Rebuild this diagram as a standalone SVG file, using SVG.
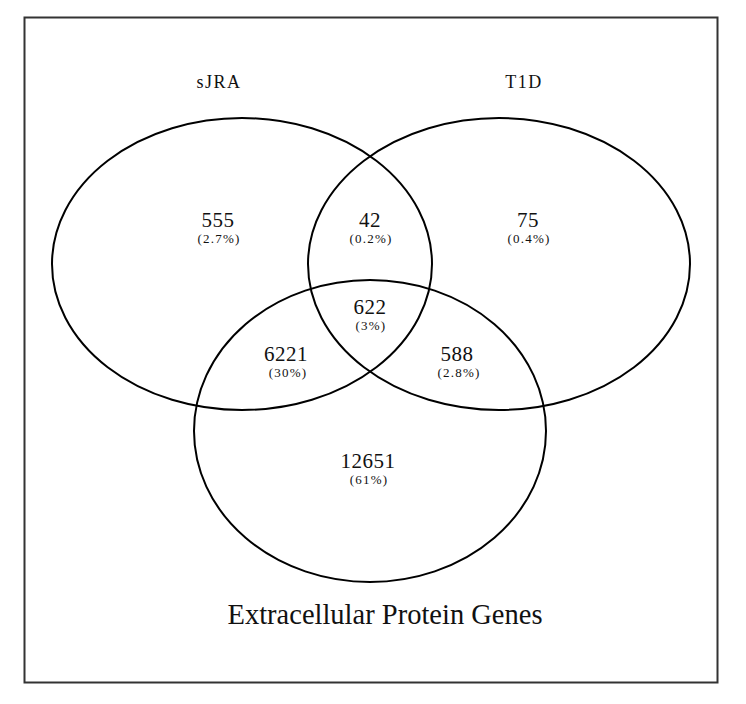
<svg xmlns="http://www.w3.org/2000/svg" width="746" height="704" viewBox="0 0 746 704">
<style>
.set{fill:none;stroke:#000;stroke-width:2}
.lab{font-family:"Liberation Serif","DejaVu Serif",serif;font-size:18px;fill:#111;text-anchor:middle;letter-spacing:1.5px}
.num{font-family:"Liberation Serif","DejaVu Serif",serif;font-size:21px;fill:#111;text-anchor:middle;letter-spacing:0.5px}
.pct{font-family:"Liberation Serif","DejaVu Serif",serif;font-size:13px;fill:#111;text-anchor:middle;letter-spacing:1.2px}
.title{font-family:"Liberation Serif","Times New Roman",serif;font-size:28.5px;fill:#111;text-anchor:middle}
</style>
<rect x="0" y="0" width="746" height="704" fill="#fff"/>
<rect x="24.5" y="17.5" width="693" height="665" fill="none" stroke="#333" stroke-width="2"/>
<g id="sets">
<g id="sJRA"><ellipse class="set" cx="242" cy="264" rx="190" ry="146"/><text class="lab" x="219" y="88">sJRA</text></g>
<g id="T1D"><ellipse class="set" cx="499" cy="264" rx="191" ry="146"/><text class="lab" x="524" y="88">T1D</text></g>
<g id="third"><ellipse class="set" cx="370" cy="431" rx="176" ry="151"/></g>
</g>
<g id="regions">
<g id="r555"><text class="num" x="218" y="227">555</text><text class="pct" x="219" y="243">(2.7%)</text></g>
<g id="r42"><text class="num" x="370" y="227">42</text><text class="pct" x="371" y="243">(0.2%)</text></g>
<g id="r75"><text class="num" x="528" y="227">75</text><text class="pct" x="529" y="243">(0.4%)</text></g>
<g id="r622"><text class="num" x="370" y="314">622</text><text class="pct" x="371" y="330">(3%)</text></g>
<g id="r6221"><text class="num" x="286" y="361">6221</text><text class="pct" x="288" y="377">(30%)</text></g>
<g id="r588"><text class="num" x="457" y="361">588</text><text class="pct" x="459" y="377">(2.8%)</text></g>
<g id="r12651"><text class="num" x="368" y="468">12651</text><text class="pct" x="369" y="484">(61%)</text></g>
</g>
<text class="title" x="385" y="624">Extracellular Protein Genes</text>
</svg>
